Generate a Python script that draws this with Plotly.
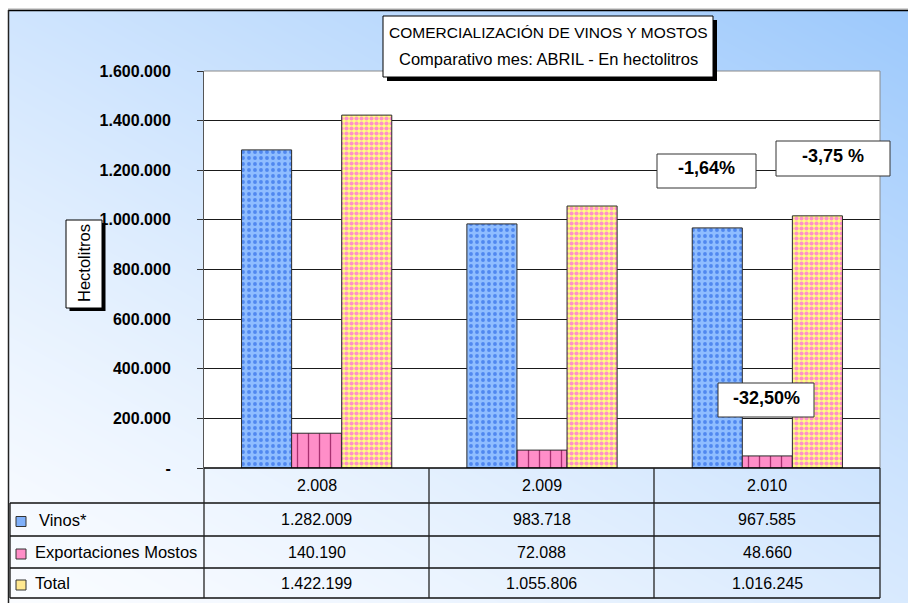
import numpy as np
import plotly.graph_objects as go

# ---------------- data ----------------
years = ["2.008", "2.009", "2.010"]
vinos = [1282009, 983718, 967585]
mostos = [140190, 72088, 48660]
total = [1422199, 1055806, 1016245]
series_names = ["Vinos*", "Exportaciones Mostos", "Total"]
pct_labels = ["-1,64%", "-3,75 %", "-32,50%"]
ytick_vals = [0, 200000, 400000, 600000, 800000, 1000000, 1200000, 1400000, 1600000]
ytick_text = ["-", "200.000", "400.000", "600.000", "800.000", "1.000.000",
              "1.200.000", "1.400.000", "1.600.000"]
title_lines = ["COMERCIALIZACIÓN DE VINOS Y MOSTOS", "Comparativo mes: ABRIL - En hectolitros"]
y_title = "Hectolitros"

W, H = 908, 603
FONT = "Liberation Sans, Arial, sans-serif"


def px(x):
    return x / W


def py(y):
    return 1 - y / H


def fmt(v):
    return f"{v:,}".replace(",", ".")


fig = go.Figure()

# ---------------- gradient background (styling) ----------------
gx = np.linspace(0, W, 46)
gy = np.linspace(0, H, 31)
U, V = np.meshgrid(gx / W, gy / H)
T = np.clip(0.45 * U + 0.55 * (1 - V), 0, 1) ** 1.3
fig.add_trace(go.Heatmap(
    x=gx, y=gy, z=T, zmin=0, zmax=1, zsmooth="best", showscale=False,
    colorscale=[[0, "rgb(250,252,255)"], [1, "rgb(155,200,252)"]],
    hoverinfo="skip", xaxis="x", yaxis="y"))

# ---------------- bars ----------------
styles = [
    dict(color="#8dbbff", pattern=dict(shape=".", fgcolor="#5088f0", bgcolor="#8fbdff",
                                       size=6, solidity=0.32, fillmode="replace")),
    dict(color="#ff8ec8", pattern=dict(shape="|", fgcolor="#a83070", bgcolor="#ff8ec8",
                                       size=11, solidity=0.12, fillmode="replace")),
    dict(color="#ffe8a8", pattern=dict(shape=".", fgcolor="#ff90c8", bgcolor="#ffff80",
                                       size=5, solidity=0.55, fillmode="replace")),
]
for name, vals, st in zip(series_names, [vinos, mostos, total], styles):
    fig.add_trace(go.Bar(
        x=years, y=vals, name=name, xaxis="x2", yaxis="y2",
        marker=dict(color=st["color"], pattern=st["pattern"],
                    line=dict(color="#2a2a2a", width=1)),
        hoverinfo="skip"))

# ---------------- layout ----------------
PL, PR, PT, PB = 204, 880, 71, 468
fig.update_layout(
    width=W, height=H, autosize=False, margin=dict(l=0, r=0, t=0, b=0, pad=0),
    paper_bgcolor="white", plot_bgcolor="white",
    showlegend=False, barmode="group", bargap=1 / 3, bargroupgap=0,
    xaxis=dict(domain=[px(9), 1], range=[9, W], visible=False, fixedrange=True,
               automargin=False),
    yaxis=dict(domain=[0, py(10)], range=[H, 10], visible=False, fixedrange=True,
               automargin=False),
    xaxis2=dict(domain=[px(PL), px(PR)], anchor="y2", type="category",
                range=[-0.5, 2.5], showticklabels=False, showgrid=False,
                showline=False, zeroline=False, fixedrange=True, automargin=False),
    yaxis2=dict(domain=[py(PB), py(PT)], anchor="x2", range=[0, 1600000],
                tickmode="array", tickvals=ytick_vals, ticktext=ytick_text,
                ticks="outside", ticklen=6, tickcolor="#333", tickwidth=1,
                showline=True, linecolor="#555", linewidth=1,
                showgrid=True, gridcolor="#1a1a1a", gridwidth=1, zeroline=False,
                ticklabelstandoff=23, automargin=False,
                tickfont=dict(family=FONT, size=16, color="black", weight="bold"),
                fixedrange=True),
)

shapes = []
ann = []


def line(x0, y0, x1, y1, color="#111", width=1):
    shapes.append(dict(type="line", xref="paper", yref="paper",
                       x0=px(x0), y0=py(y0), x1=px(x1), y1=py(y1),
                       line=dict(color=color, width=width)))


def rect(x0, y0, x1, y1, fill, border=None, width=1):
    shapes.append(dict(type="rect", xref="paper", yref="paper",
                       x0=px(x0), y0=py(y0), x1=px(x1), y1=py(y1),
                       fillcolor=fill,
                       line=dict(color=border or fill, width=width if border else 0)))


def text(x, y, s, size=15.5, bold=False, xanchor="center", angle=0):
    ann.append(dict(xref="paper", yref="paper", x=px(x), y=py(y), text=s,
                    showarrow=False, xanchor=xanchor, yanchor="middle", textangle=angle,
                    font=dict(family=FONT, size=size, color="black",
                              weight="bold" if bold else "normal")))


# outer chart border
line(8, 9, W, 9, color="#aaaaaa")
line(8, 10.5, W, 10.5, color="#000", width=1.5)
line(8.5, 10, 8.5, H, color="#222", width=1.5)

# plot area border (top/right)
line(PL, PT, PR, PT, color="#8a8a8a")
line(PR, PT, PR, PB, color="#8a8a8a")

# data table
col_edges = [PL, 429, 654, PR]
row_edges = [PB, 503, 536, 568, 598]
line(PL, PB, PR, PB, color="#000", width=1.5)
for yy in row_edges[1:]:
    line(10, yy, PR, yy, color="#111", width=1.3)
line(10, row_edges[1], 10, row_edges[-1], color="#111", width=1.3)
for xx in col_edges:
    line(xx, PB, xx, row_edges[-1], color="#222", width=1.3)

row_centers = [(row_edges[i] + row_edges[i + 1]) / 2 for i in range(4)]
col_centers = [(col_edges[i] + col_edges[i + 1]) / 2 for i in range(3)]
for c, yr in zip(col_centers, years):
    text(c, row_centers[0], yr, size=16)
for r, vals in enumerate([vinos, mostos, total]):
    for c, v in zip(col_centers, vals):
        text(c, row_centers[r + 1], fmt(v), size=16)

key_fill = ["#7fb0fa", "#ff8ec8", "#ffe890"]
label_x = [37, 33, 33]
for r in range(3):
    yc = row_centers[r + 1] + 2
    rect(16, yc - 5, 26, yc + 5, key_fill[r], border="#333")
    text(label_x[r], row_centers[r + 1], series_names[r], size=16.5, xanchor="left")

# title box with shadow
rect(387, 20, 717, 81, "#000")
rect(383, 16, 713, 77, "white", border="#000")
text(548, 33, title_lines[0], size=15.5)
text(548, 59, title_lines[1], size=16.5)

# y-axis title box with shadow
rect(69.5, 223, 105.5, 311, "#000")
rect(66, 220, 102, 308, "white", border="#000")
text(84, 263, y_title, size=16.5, angle=-90)

# percentage boxes
pct_boxes = [(657, 154, 756, 188), (776, 141, 890, 176), (718, 383, 814, 417)]
pct_text_y = [168, 156, 398]
for (x0, y0, x1, y1), lab, ty in zip(pct_boxes, pct_labels, pct_text_y):
    rect(x0, y0, x1, y1, "white", border="#333")
    text((x0 + x1) / 2, ty, lab, size=18, bold=True)

fig.update_layout(shapes=shapes, annotations=ann)
fig.write_html("out.html", config={"responsive": False, "displayModeBar": False},
               post_script="document.body.style.margin='0';")
